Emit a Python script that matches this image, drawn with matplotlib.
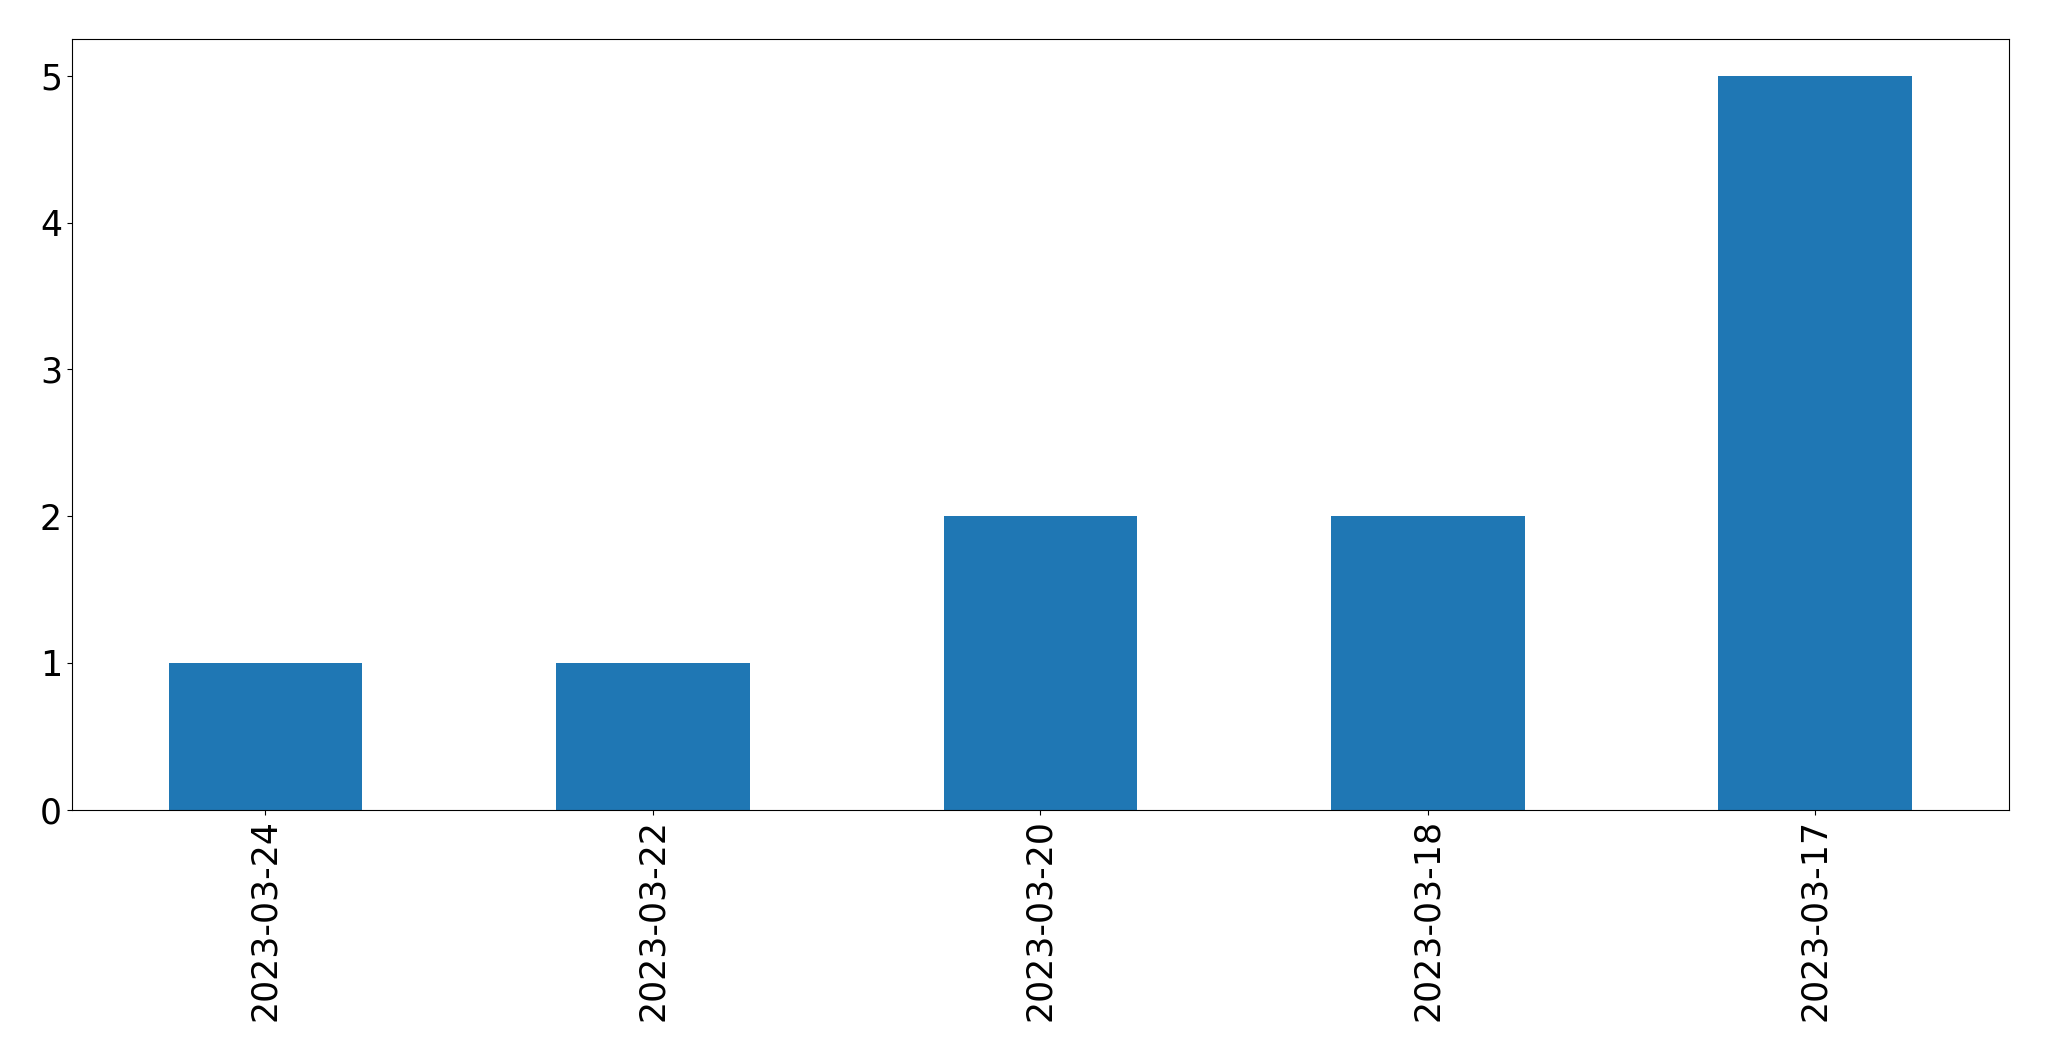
import matplotlib
matplotlib.use("Agg")
import matplotlib.pyplot as plt

dates = ["2023-03-24", "2023-03-22", "2023-03-20", "2023-03-18", "2023-03-17"]
counts = [1, 1, 2, 2, 5]

fig = plt.figure(figsize=(20.49, 10.61), dpi=100)
ax = fig.add_axes([0.035, 0.237, 0.9455, 0.726])
x = list(range(len(dates)))
ax.bar(x, counts, width=0.5, color="#1f77b4")
ax.set_xlim(-0.5, len(dates) - 0.5)
ax.set_ylim(0, 5.25)
ax.set_xticks(x)
ax.set_xticklabels(dates, rotation=90)
ax.tick_params(labelsize=25)
fig.savefig("out.png", dpi=100)
